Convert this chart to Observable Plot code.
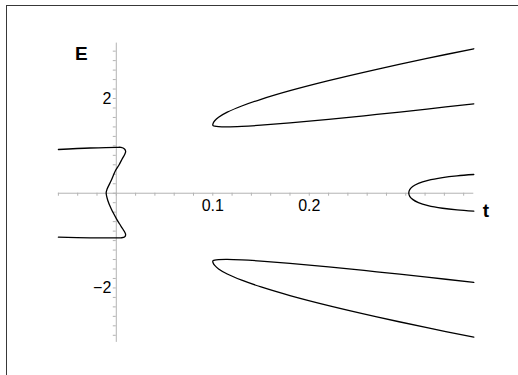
<!DOCTYPE html>
<html><head><meta charset="utf-8">
<script src="https://cdn.jsdelivr.net/npm/d3@7"></script>
<script src="https://cdn.jsdelivr.net/npm/@observablehq/plot@0.6"></script>
<style>
html,body{margin:0;padding:0;background:#fff;}
#wrap{position:relative;width:518px;height:375px;overflow:hidden;}
#frame{position:absolute;left:6px;top:5px;width:700px;height:600px;border-top:1.6px solid #383838;border-left:1.6px solid #383838;pointer-events:none;}
</style></head><body>
<div id="wrap"><div id="chart"></div><div id="frame"></div></div>
<script>
// Tick positions and labels
const xMinorTicks = [-0.06,-0.04,-0.02,0,0.02,0.04,0.06,0.08,0.1,0.12,0.14,0.16,0.18,0.2,0.22,0.24,0.26,0.28,0.3,0.32,0.34,0.36];
const yMinorTicks = [-3,-2.8,-2.6,-2.4,-2.2,-2,-1.8,-1.6,-1.4,-1.2,-1,-0.8,-0.6,-0.4,-0.2,0,0.2,0.4,0.6,0.8,1,1.2,1.4,1.6,1.8,2,2.2,2.4,2.6,2.8,3];
const xLabelValues = [0.1, 0.2];
const xLabelTexts = ["0.1", "0.2"];
const yLabelValues = [2, -2];
const yLabelTexts = ["2", "\u22122"];

// Curve near t = 0 (S-shaped branch), in drawing order
const leftT = [-0.06, -0.027, 0.0002, 0.0049, 0.0085, 0.0097, 0.0088, 0.0064, 0.0028, -0.0008, -0.0053, -0.0094, -0.0105, -0.0088, -0.0053, 0.0002, 0.0031, 0.0064, 0.0088, 0.0097, 0.0085, 0.0049, 0.0002, -0.027, -0.06];
const leftE = [0.923, 0.955, 0.969, 0.967, 0.933, 0.881, 0.822, 0.737, 0.596, 0.479, 0.268, 0.093, 0.008, -0.154, -0.329, -0.541, -0.64, -0.745, -0.822, -0.879, -0.925, -0.942, -0.944, -0.942, -0.929];

// Upper branch pair (upper side from right end to the tip, then lower side back out)
const upperT = [0.3705, 0.322, 0.27, 0.22, 0.18, 0.15, 0.13, 0.115, 0.106, 0.102, 0.1005, 0.1, 0.1005, 0.102, 0.106, 0.115, 0.13, 0.15, 0.18, 0.22, 0.27, 0.322, 0.3705];
const upperE = [3.05, 2.847, 2.617, 2.378, 2.166, 1.984, 1.842, 1.711, 1.604, 1.531, 1.484, 1.44, 1.426, 1.415, 1.405, 1.401, 1.411, 1.436, 1.484, 1.559, 1.663, 1.777, 1.888];

// Lower branch pair
const lowerT = [0.3705, 0.322, 0.27, 0.22, 0.18, 0.15, 0.13, 0.115, 0.106, 0.102, 0.1005, 0.1, 0.1005, 0.102, 0.106, 0.115, 0.13, 0.15, 0.18, 0.22, 0.27, 0.322, 0.3705];
const lowerE = [-3.04, -2.84, -2.61, -2.372, -2.16, -1.978, -1.836, -1.705, -1.598, -1.525, -1.478, -1.436, -1.422, -1.411, -1.401, -1.397, -1.407, -1.432, -1.48, -1.555, -1.659, -1.773, -1.882];

// Small branch near t = 0.3
const smallT = [0.3705, 0.3531, 0.3381, 0.3231, 0.3131, 0.3071, 0.3041, 0.3031, 0.3041, 0.3071, 0.3131, 0.3231, 0.3381, 0.3531, 0.3705];
const smallE = [0.395, 0.368, 0.331, 0.273, 0.209, 0.142, 0.077, 0.004, -0.066, -0.13, -0.197, -0.26, -0.317, -0.353, -0.38];

const curves = [
  {name: "left", t: leftT, e: leftE},
  {name: "upper", t: upperT, e: upperE},
  {name: "lower", t: lowerT, e: lowerE},
  {name: "small", t: smallT, e: smallE}
];
const points = curves.flatMap(c => c.t.map((t, i) => ({curve: c.name, t, e: c.e[i]})));

const axisColor = "#b3b3b3";
const font = "'Liberation Sans', Arial, Helvetica, sans-serif";

const chart = Plot.plot({
  width: 518,
  height: 375,
  marginLeft: 57.9,
  marginRight: 44.7,
  marginTop: 42.6,
  marginBottom: 33.1,
  x: {domain: [-0.06, 0.3705], axis: null},
  y: {domain: [-3.15, 3.17], axis: null},
  style: {background: "transparent", fontFamily: font, color: "black"},
  marks: [
    Plot.ruleY([0], {stroke: axisColor, strokeWidth: 1}),
    Plot.ruleX([0], {stroke: axisColor, strokeWidth: 1}),
    Plot.ruleX(xMinorTicks, {x: d => d, y1: 0, y2: 0, insetBottom: -3, stroke: axisColor}),
    Plot.ruleY(yMinorTicks, {y: d => d, x1: 0, x2: 0, insetLeft: -3, stroke: axisColor}),
    Plot.line(points, {x: "t", y: "e", z: "curve", curve: "catmull-rom", stroke: "black", strokeWidth: 1.3}),
    Plot.text(xLabelValues, {x: d => d, y: 0, text: (d, i) => xLabelTexts[i], lineAnchor: "top", dy: 6, fontSize: 16, fill: "black"}),
    Plot.text(yLabelValues, {x: 0, y: d => d, text: (d, i) => yLabelTexts[i], textAnchor: "end", lineAnchor: "middle", dx: -5, fontSize: 16, fill: "black"}),
    Plot.text(["E"], {x: 0, frameAnchor: "top", textAnchor: "middle", lineAnchor: "middle", dx: -35, dy: 11.2, fontSize: 19, fontWeight: "bold", fill: "black"}),
    Plot.text(["t"], {y: 0, frameAnchor: "right", textAnchor: "middle", lineAnchor: "middle", dx: 12, dy: 18, fontSize: 19, fontWeight: "bold", fill: "black"})
  ]
});
document.getElementById("chart").appendChild(chart);
</script>
</body></html>
